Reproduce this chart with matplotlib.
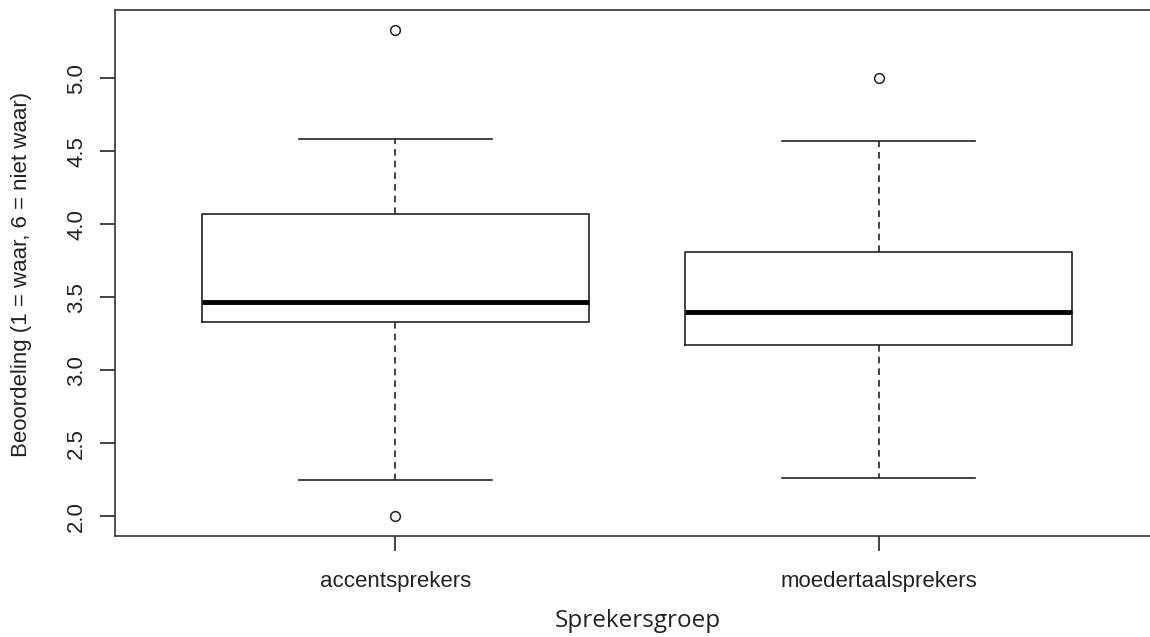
import matplotlib
matplotlib.use("Agg")
import matplotlib.pyplot as plt

# ======================
# DATA (vijfgetallensamenvatting per groep)
# ======================
groepen     = ["accentsprekers", "moedertaalsprekers"]
whisker_low = [2.25, 2.26]
q1          = [3.33, 3.17]
mediaan     = [3.47, 3.40]
q3          = [4.07, 3.81]
whisker_hi  = [4.58, 4.57]
uitschieters = [[5.33, 2.00], [5.00]]

stats = [
    {"label": g, "whislo": lo, "q1": a, "med": m, "q3": b, "whishi": hi, "fliers": fl}
    for g, lo, a, m, b, hi, fl in zip(groepen, whisker_low, q1, mediaan, q3, whisker_hi, uitschieters)
]

# ======================
# PLOT
# ======================
W, H = 1150, 637
fig = plt.figure(figsize=(W / 100, H / 100), dpi=100)
ax = fig.add_axes([115 / W, (H - 536) / H, 1044 / W, 526 / H])

lw = 1.2
ax.bxp(
    stats, positions=[1, 2], widths=0.8, capwidths=0.4, patch_artist=False,
    boxprops=dict(color="#222222", linewidth=lw),
    whiskerprops=dict(color="#222222", linewidth=lw, linestyle=(0, (4, 3))),
    capprops=dict(color="#222222", linewidth=lw),
    medianprops=dict(color="black", linewidth=3.5, solid_capstyle="butt"),
    flierprops=dict(marker="o", markersize=7, markerfacecolor="white",
                    markeredgecolor="#222222", markeredgewidth=1.1),
)

ax.set_xlim(0.42, 2.58)
ax.set_ylim(1.866, 5.466)
ax.set_yticks([2.0, 2.5, 3.0, 3.5, 4.0, 4.5, 5.0])
ax.set_yticklabels(["2.0", "2.5", "3.0", "3.5", "4.0", "4.5", "5.0"],
                   rotation=90, va="center", fontsize=16, family="Liberation Sans", color="#222222")
ax.set_xticks([1, 2])
ax.set_xticklabels(groepen, fontsize=16, family="Liberation Sans", color="#222222")
ax.tick_params(axis="y", length=11, width=1.2, pad=9, color="#222222")
ax.tick_params(axis="x", length=11, width=1.2, pad=14, color="#222222")

for side in ["left", "top", "bottom"]:
    ax.spines[side].set_linewidth(1.2)
    ax.spines[side].set_color("#333333")
ax.spines["right"].set_visible(False)

fig.text(22 / W, 1 - 274 / H, "Beoordeling (1 = waar, 6 = niet waar)", rotation=90,
         ha="center", va="center", fontsize=16, family="Liberation Sans", color="#222222")
fig.text(638 / W, 1 - 621 / H, "Sprekersgroep", ha="center", va="center",
         fontsize=17.5, family="Open Sans", color="#222222")

fig.savefig("out.png", dpi=100)
